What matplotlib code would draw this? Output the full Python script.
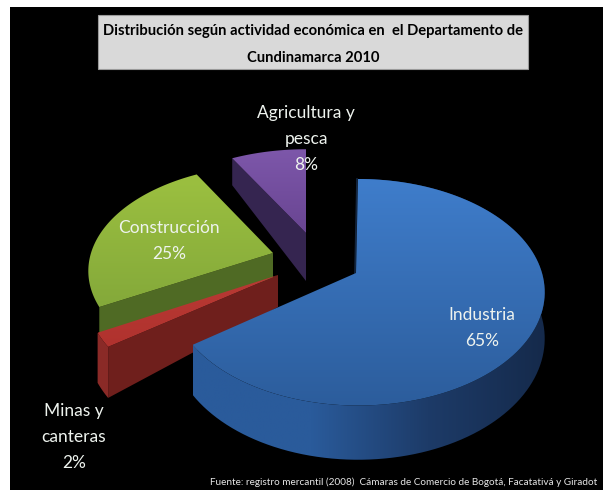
import numpy as np
import matplotlib
matplotlib.use('Agg')
import matplotlib.pyplot as plt
from matplotlib.colors import LinearSegmentedColormap
from matplotlib.patches import Polygon, Rectangle

plt.rcParams['font.family'] = ['Lato', 'DejaVu Sans']

categories = ['Industria', 'Minas y\ncanteras', 'Construcción', 'Agricultura y\npesca']
shares = [65, 2, 25, 8]
title = 'Distribución según actividad económica en  el Departamento de\nCundinamarca 2010'
source = 'Fuente: registro mercantil (2008)  Cámaras de Comercio de Bogotá, Facatativá y Giradot'

# pixel layout of the exploded slices, one row per slice
apex_x = [356, 278, 273, 306]
apex_y = [273, 275, 253, 233]
off_x = [2, 0, 0, 0]
rad_x = [184, 189, 182, 176]
rad_y = [110, 110, 103, 98]
apex_depth = [45, 32, 25, 48]
rim_depth = [45, 46, 26, 31]
top_cols = [('#3f7dcb', '#2c5d9c'), ('#b93a34', '#b0322e'), ('#9cc040', '#84a93a'), ('#7d57aa', '#694592')]
wall_cols = ['#6f1f1c', '#4f6a24', '#352550']
label_x = [482, 74, 169, 306]
label_y = [328, 437, 241, 139]
PERSP = 0.17


def rim(i, t):
    s = 1 / (1 + PERSP * np.sin(t))
    x = apex_x[i] + off_x[i] + rad_x[i] * np.cos(t) * s
    y = apex_y[i] - rad_y[i] * np.sin(t) * s
    return x, y, s


def gradient(ax, patch, colors, vertical=True):
    x0, y0 = patch.get_xy().min(axis=0)
    x1, y1 = patch.get_xy().max(axis=0)
    cmap = LinearSegmentedColormap.from_list('g', colors)
    grad = np.linspace(0, 1, 256)
    grad = grad[:, None] if vertical else grad[None, :]
    im = ax.imshow(grad, extent=(x0, x1, y1, y0), aspect='auto', cmap=cmap, zorder=patch.get_zorder())
    im.set_clip_path(patch)


fig = plt.figure(figsize=(6.03, 4.90), dpi=100, facecolor='white')
ax = fig.add_axes([0, 0, 1, 1])
ax.axis('off')
ax.add_patch(Rectangle((10, 7), 593, 483, fc='black', ec='none', zorder=0))
ax.add_patch(Rectangle((98, 15), 430, 54, fc='#d9d9d9', ec='#9a9a9a', lw=0.8, zorder=1))

# slice angles run clockwise from twelve o'clock
ends = 90 - 3.6 * np.cumsum(shares)
starts = np.r_[90, ends[:-1]]
for i in [2, 3, 1, 0]:
    t = np.radians(np.linspace(starts[i], ends[i], 120))
    x, y, s = rim(i, t)
    z = 10 + [2, 0, -2, -1][i] * 2
    ax0, ay0 = apex_x[i], apex_y[i]

    # outer wall, only blue and red show theirs
    wx = np.r_[x, x[::-1]]
    wy = np.r_[y, (y + rim_depth[i] * s)[::-1]]
    if i == 0:
        wall = Polygon(np.c_[wx, wy], closed=True, fc='none', ec='none', zorder=z)
        ax.add_patch(wall)
        gradient(ax, wall, ['#2a5b9b', '#2a5b9b', '#1d3b68', '#152a4b'], vertical=False)
        ax.plot([ax0 - 1, x[0] - 1], [ay0, y[0]], color='#14263f', lw=1.2, zorder=z)
    elif i == 1:
        ax.add_patch(Polygon(np.c_[wx, wy], closed=True, fc='#8a2a27', ec='none', zorder=z))

    # flat cut wall seen from the front
    if i > 0:
        xe, ye, se = x[0], y[0], s[0]
        ax.add_patch(Polygon([(ax0, ay0), (xe, ye), (xe, ye + rim_depth[i] * se), (ax0, ay0 + apex_depth[i])],
                             closed=True, fc=wall_cols[i - 1], ec='none', zorder=z + 0.1))

    # top face
    top = Polygon(np.c_[np.r_[ax0, x], np.r_[ay0, y]], closed=True, fc='none', ec='none', zorder=z + 0.2)
    ax.add_patch(top)
    gradient(ax, top, top_cols[i])

for i, name in enumerate(categories):
    ax.text(label_x[i], label_y[i], '%s\n%d%%' % (name, shares[i]), color='#eef3ee', fontsize=12.5,
            ha='center', va='center', linespacing=1.78, zorder=30)

ax.text(313, 44.5, title, color='black', fontsize=10.6, fontweight='bold', ha='center', va='center',
        linespacing=2.15, zorder=31)
ax.text(404, 482, source, color='#e6e6e6', fontsize=7.2, ha='center', va='center', zorder=31)

ax.set_xlim(0, 603)
ax.set_ylim(490, 0)
fig.savefig('out.png', dpi=100)
